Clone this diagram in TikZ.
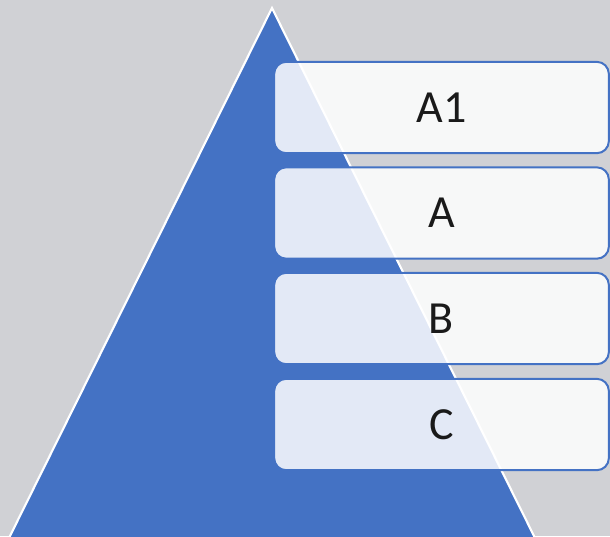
\documentclass[tikz,border=0pt]{standalone}
\usepackage{fontspec}
\setmainfont{Carlito}
\definecolor{bggray}{HTML}{D0D1D5}
\definecolor{pyrblue}{HTML}{4472C4}
\definecolor{txtcol}{HTML}{1A1A1A}
\tikzset{
  levelbox/.style={draw=pyrblue, line width=1.5pt, fill=white, fill opacity=0.85, text opacity=1,
    rounded corners=9pt, minimum width=251pt, minimum height=68.5pt, inner sep=0pt,
    font=\fontsize{34.5}{40}\selectfont, text=txtcol},
  pyramid/.style={fill=pyrblue, draw=white, line width=1.6pt, line join=miter}
}
\begin{document}
\begin{tikzpicture}[x=0.75pt, y=-0.75pt]
\useasboundingbox (0,0) rectangle (610,536);
\fill[bggray] (0,0) rectangle (610,536);
\begin{scope}
\clip (0,0) rectangle (610,536);
\path[pyramid] (272,8) coordinate (apex) -- (536,540) coordinate (br) -- (8,540) coordinate (bl) -- cycle;
\node[levelbox] (a1) at (441.5,107.5) {A1};
\node[levelbox] (a) at (441.5,213) {A};
\node[levelbox] (b) at (441.5,318.5) {B};
\node[levelbox] (c) at (441.5,424.5) {C};
\end{scope}
\end{tikzpicture}
\end{document}
